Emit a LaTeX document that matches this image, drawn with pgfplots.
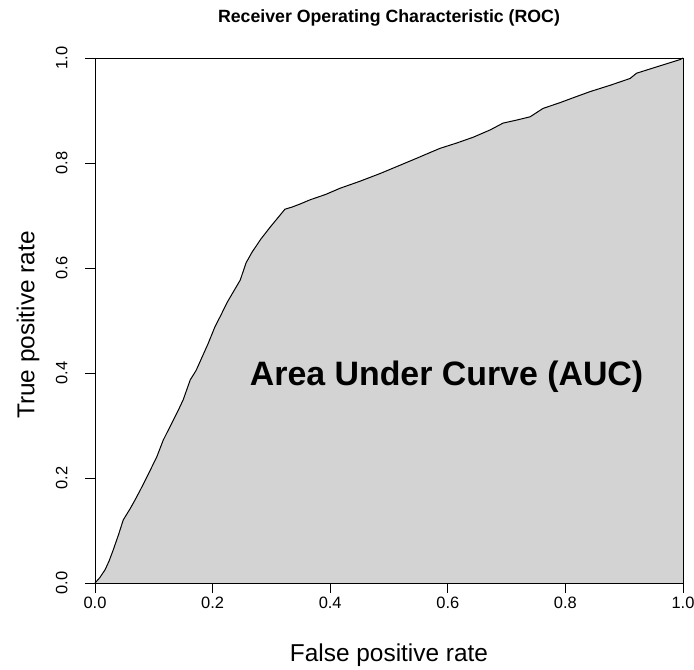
\documentclass[border=0pt]{standalone}
\usepackage{fontspec}
\setmainfont{Liberation Sans}
\usepackage{pgfplots}
\pgfplotsset{compat=1.18}
\definecolor{aucfill}{HTML}{D3D3D3}

% ROC curve: false positive rate vs. true positive rate
\pgfplotstableread{
fpr    tpr
0.000  0.000
0.008  0.010
0.017  0.025
0.024  0.042
0.031  0.063
0.040  0.092
0.048  0.120
0.060  0.142
0.068  0.158
0.077  0.177
0.094  0.215
0.105  0.240
0.116  0.272
0.133  0.310
0.142  0.330
0.150  0.349
0.162  0.387
0.172  0.405
0.180  0.425
0.192  0.455
0.204  0.488
0.214  0.510
0.225  0.535
0.236  0.556
0.247  0.577
0.257  0.610
0.267  0.630
0.282  0.655
0.298  0.678
0.312  0.697
0.323  0.712
0.335  0.716
0.349  0.722
0.366  0.730
0.392  0.740
0.417  0.752
0.450  0.765
0.485  0.780
0.515  0.794
0.547  0.809
0.570  0.820
0.587  0.828
0.615  0.838
0.643  0.849
0.672  0.863
0.694  0.876
0.718  0.882
0.740  0.888
0.762  0.904
0.791  0.915
0.815  0.925
0.842  0.936
0.876  0.948
0.910  0.961
0.921  0.971
0.955  0.983
0.975  0.990
0.995  0.997
1.000  1.000
}\roc

\begin{document}
\begin{tikzpicture}
\begin{axis}[
  name=roc,
  scale only axis, width=588bp, height=525bp,
  xmin=0, xmax=1, ymin=0, ymax=1,
  xtick={0,0.2,0.4,0.6,0.8,1}, ytick={0,0.2,0.4,0.6,0.8,1},
  tick pos=left, major tick length=0pt,
  /pgf/number format/assume math mode=true,
  /pgf/number format/fixed, /pgf/number format/fixed zerofill,
  /pgf/number format/precision=1,
  ticklabel style={font=\fontsize{16.5}{16.5}\selectfont},
  xticklabel style={yshift=-10bp},
  yticklabel style={xshift=-24bp, rotate=90, anchor=south},
  clip=false,
]
  \addplot[fill=aucfill, draw=none] table[x=fpr, y=tpr] {\roc} \closedcycle;
  \addplot[black, line width=1bp] table[x=fpr, y=tpr] {\roc};
  \draw[line width=0.8bp] (rel axis cs:0,0) rectangle (rel axis cs:1,1);

  \node[font=\fontsize{34}{34}\selectfont\bfseries] at (axis cs:0.598,0.392) {Area Under Curve (AUC)};
  \node[font=\fontsize{17.8}{17.8}\selectfont\bfseries] at (rel axis cs:0.5,1) [yshift=40bp] {Receiver Operating Characteristic (ROC)};
  \node[font=\fontsize{24.5}{24.5}\selectfont] at (rel axis cs:0.5,0) [yshift=-72bp] {False positive rate};
  \node[font=\fontsize{24.5}{24.5}\selectfont, xshift=-67bp, rotate=90] at (rel axis cs:0,0.4914) {True positive rate};
\end{axis}
% outward tick marks along the bottom and left sides of the axis box
\foreach \i in {0,...,5} {
  \draw[line width=0.8bp] ([xshift=\i*117.6bp]roc.south west) -- ++(0,-9.5bp);
  \draw[line width=0.8bp] ([yshift=\i*105bp]roc.south west) -- ++(-9.5bp,0);
}
\pgfresetboundingbox
\path (roc.south west) ++(-95bp,-87bp) rectangle ++(694bp,670bp);
\end{tikzpicture}
\end{document}
